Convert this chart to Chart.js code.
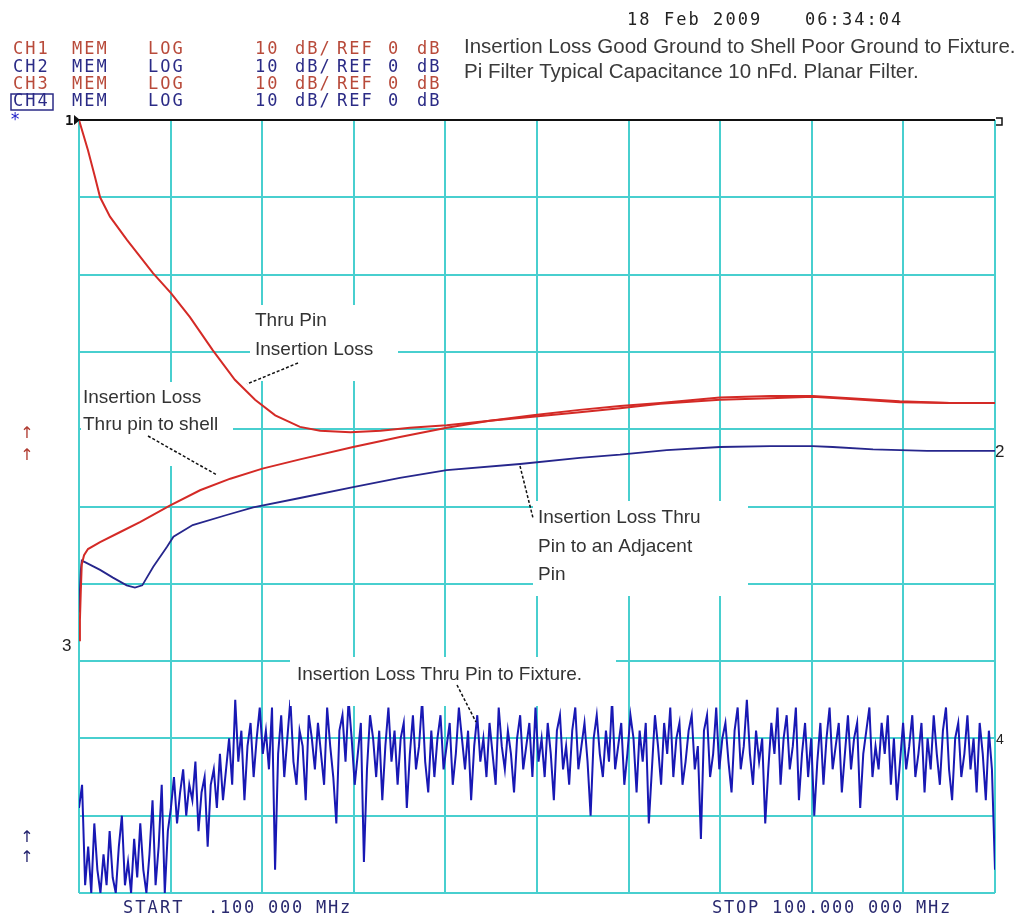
<!DOCTYPE html>
<html lang="en">
<head>
<meta charset="UTF-8">
<title>Insertion Loss - Pi Filter</title>
<script src="https://cdn.jsdelivr.net/npm/chart.js"></script>
<style>
  body { margin: 0; background: #ffffff; }
  #plot { display: block; }
</style>
</head>
<body>
<canvas id="plot" width="1031" height="918"></canvas>
<script>
// sweep 0.1 - 100 MHz, 10 dB/div, REF 0 dB
const FREQ_TICKS = [0.1, 10.09, 20.08, 30.07, 40.06, 50.05, 60.04, 70.03, 80.02, 90.01, 100];
const DB_TICKS = [-100, -90, -80, -70, -60, -50, -40, -30, -20, -10, 0];

// Thru Pin Insertion Loss (red, falls from the top)
const thruPinMHz = [0.1, 1.08, 1.85, 2.4, 3.48, 5.33, 8.17, 10.13, 12.2, 14.7, 17.1, 19.3, 21.5, 24.2, 26.4, 29.7,
  33.0, 36.2, 40.2, 44.9, 49.6, 54.7, 59.1, 63.5, 70.0, 75.5, 80.1, 84.2, 89.6, 95.1, 100];
const thruPinDb = [0, -3.9, -7.4, -10.0, -12.5, -15.5, -19.8, -22.4, -25.5, -29.8, -33.6, -36.2, -38.2, -39.7, -40.2, -40.4,
  -40.2, -39.8, -39.5, -38.9, -38.4, -37.8, -37.3, -36.7, -36.2, -36.0, -35.8, -36.1, -36.5, -36.6, -36.6];

// Insertion Loss Thru pin to shell (red, rises from bottom left)
const shellMHz = [0.1, 0.2, 0.3, 0.4, 0.65, 1.08, 2.4, 4.6, 6.8, 10.0, 13.3, 16.6, 20.1, 24.2, 30.0, 35.1, 40.2,
  44.9, 49.6, 54.7, 59.1, 63.5, 70.0, 75.5, 80.1, 84.2, 89.6, 95.1, 100];
const shellDb = [-67.3, -64.7, -60.8, -57.5, -56.3, -55.5, -54.6, -53.3, -52.0, -49.9, -47.9, -46.4, -45.1, -43.9, -42.3, -41.0, -39.8,
  -38.9, -38.2, -37.5, -37.0, -36.6, -35.9, -35.7, -35.7, -36.0, -36.4, -36.6, -36.6];

// Insertion Loss Thru Pin to an Adjacent Pin (navy)
const adjacentMHz = [0.1, 0.2, 0.3, 0.4, 0.75, 2.4, 3.8, 5.3, 6.2, 7.0, 8.2, 9.7, 10.4, 12.5, 16.2, 19.1, 24.2, 30.0,
  35.1, 40.2, 48.2, 54.7, 59.1, 64.2, 70.0, 75.5, 80.1, 82.3, 86.7, 92.6, 100];
const adjacentDb = [-63.6, -60.8, -58.2, -57.0, -57.2, -58.2, -59.2, -60.2, -60.5, -60.2, -57.8, -55.2, -53.9, -52.4, -51.1, -50.1, -48.9, -47.5,
  -46.3, -45.3, -44.5, -43.7, -43.3, -42.7, -42.3, -42.2, -42.2, -42.3, -42.6, -42.8, -42.8];

// Insertion Loss Thru Pin to Fixture (noisy, one value per sweep point)
const fixtureStartMHz = 0.1;
const fixtureStopMHz = 100;
const fixtureDb = [
  -89, -86, -99, -94, -100, -91, -97, -100, -95, -99, -92, -98, -100, -94, -90, -99, -96, -100, -93, -98,
  -91, -97, -100, -95, -88, -99, -94, -86, -100, -92,
  -89, -85, -91, -87, -84, -90, -86, -88, -83, -92, -87, -85, -94, -86, -84, -89, -82, -88,
  -84, -80, -86, -75, -83, -79, -88, -81, -78, -85, -80, -76, -82,
  -79, -84, -76, -97, -82, -77, -85, -80, -75, -83,
  -86, -79, -81, -88, -77, -80, -84, -78, -82, -86,
  -76, -81, -85, -91, -79, -77, -83, -75, -80, -86,
  -82, -78, -96, -84, -77, -80, -85, -79, -88, -81,
  -76, -83, -79, -86, -80, -78, -89, -82, -77, -84,
  -81, -75, -83, -87, -79, -85, -80, -77, -84, -81,
  -78, -86, -82, -76, -80, -84, -79, -88, -81, -77,
  -83, -80, -85, -78, -82, -86, -76, -81, -84, -79,
  -82, -87, -80, -77, -84, -81, -78, -85, -76, -83,
  -80, -85, -78, -82, -88, -79, -77, -84, -81, -86,
  -79, -76, -84, -81, -78, -83, -90, -80, -77, -82,
  -85, -79, -83, -75, -84, -81, -78, -86, -82, -77,
  -80, -87, -79, -83, -78, -91, -84, -77, -81, -86,
  -78, -82, -76, -85, -80, -78, -86, -83, -79, -77,
  -84, -81, -93, -79, -77, -85, -82, -76, -84, -80,
  -78, -83, -87, -79, -76, -84, -81, -75, -82, -86,
  -79, -83, -80, -91, -84, -78, -82, -76, -86, -80,
  -77, -84, -81, -76, -88, -82, -78, -85, -80, -90,
  -83, -78, -86, -80, -76, -84, -81, -78, -87, -82,
  -77, -84, -80, -78, -89, -82, -79, -76, -85, -81,
  -84, -78, -82, -77, -86, -80, -88, -83, -78, -84,
  -81, -77, -85, -82, -78, -87, -80, -84, -77, -82,
  -86, -79, -76, -84, -88, -80, -78, -85, -82, -77,
  -84, -80, -87, -78, -82, -88, -79, -84, -97
];

const CYAN = '#48cfcf';
const RED = '#d42a26';
const NAVY = '#26268c';
const NOISE = '#1818b4';
const CH_RED = '#b84a3a';
const CH_NAVY = '#2b2b86';
const LABEL = '#333333';

function pairs(xs, ys) {
  return xs.map((x, i) => ({ x: x, y: ys[i] }));
}
const fixtureStep = (fixtureStopMHz - fixtureStartMHz) / (fixtureDb.length - 1);
const fixturePoints = fixtureDb.map((v, i) => ({ x: fixtureStartMHz + i * fixtureStep, y: v }));

// fixed pitch text, like the analyzer's own font
function mono(ctx, str, x, y, color, pitch) {
  ctx.font = '17px "DejaVu Sans Mono"';
  ctx.fillStyle = color;
  ctx.textAlign = 'left';
  ctx.textBaseline = 'middle';
  for (let i = 0; i < str.length; i++) ctx.fillText(str[i], x + i * (pitch || 12.3), y);
}

function label(ctx, lines, x, y, step) {
  ctx.font = '19px "Liberation Sans"';
  ctx.fillStyle = LABEL;
  ctx.textAlign = 'left';
  ctx.textBaseline = 'middle';
  lines.forEach((t, i) => ctx.fillText(t, x, y + i * step));
}

function leader(ctx, x1, y1, x2, y2) {
  ctx.save();
  ctx.strokeStyle = '#111';
  ctx.lineWidth = 1.5;
  ctx.setLineDash([3, 2]);
  ctx.beginPath();
  ctx.moveTo(x1, y1);
  ctx.lineTo(x2, y2);
  ctx.stroke();
  ctx.restore();
}

const annotations = {
  id: 'annotations',
  afterDatasetsDraw(chart) {
    const ctx = chart.ctx;
    ctx.save();
    // white boxes of the pasted notes cover grid and trace
    ctx.fillStyle = '#ffffff';
    ctx.fillRect(250, 305, 148, 76);
    ctx.fillRect(81, 382, 152, 84);
    ctx.fillRect(533, 501, 215, 95);
    ctx.fillRect(290, 657, 326, 49);

    label(ctx, ['Thru Pin', 'Insertion Loss'], 255, 321, 29);
    leader(ctx, 298, 363, 247, 384);

    label(ctx, ['Insertion Loss', 'Thru pin to shell'], 83, 398, 27);
    leader(ctx, 148, 436, 217, 475);

    label(ctx, ['Insertion Loss Thru', 'Pin to an Adjacent', 'Pin'], 538, 518, 28.5);
    leader(ctx, 520, 466, 533, 518);

    label(ctx, ['Insertion Loss Thru Pin to Fixture.'], 297, 675, 0);
    leader(ctx, 457, 685, 476, 722);
    ctx.restore();
  },
  afterDraw(chart) {
    const ctx = chart.ctx;
    ctx.save();
    // channel block
    const rows = [['CH1', CH_RED], ['CH2', CH_NAVY], ['CH3', CH_RED], ['CH4', CH_NAVY]];
    rows.forEach((r, i) => {
      const y = 50 + i * 17.3;
      mono(ctx, r[0], 13, y, r[1]);
      mono(ctx, 'MEM', 72, y, r[1]);
      mono(ctx, 'LOG', 148, y, r[1]);
      mono(ctx, '10', 255, y, r[1]);
      mono(ctx, 'dB/', 295, y, r[1]);
      mono(ctx, 'REF', 337, y, r[1]);
      mono(ctx, '0', 388, y, r[1]);
      mono(ctx, 'dB', 417, y, r[1]);
    });
    ctx.strokeStyle = CH_NAVY;
    ctx.lineWidth = 1.5;
    ctx.strokeRect(11, 94, 42, 16);

    mono(ctx, '*', 10, 121, '#2020c8');
    mono(ctx, '18 Feb 2009', 627, 21, '#222222');
    mono(ctx, '06:34:04', 805, 21, '#222222');

    ctx.font = '20.5px "Liberation Sans"';
    ctx.fillStyle = '#3a3a3a';
    ctx.textBaseline = 'middle';
    ctx.fillText('Insertion Loss Good Ground to Shell Poor Ground to Fixture.', 464, 47);
    ctx.fillText('Pi Filter Typical Capacitance 10 nFd. Planar Filter.', 464, 72);

    mono(ctx, 'START', 123, 909, '#2a2a70');
    mono(ctx, '.100 000 MHz', 208, 909, '#2a2a70', 12);
    mono(ctx, 'STOP 100.000 000 MHz', 712, 909, '#2a2a70', 12);

    // reference position markers
    ctx.fillStyle = '#111';
    ctx.font = 'bold 14px "DejaVu Sans Mono"';
    ctx.fillText('1', 65, 121);
    ctx.beginPath();
    ctx.moveTo(74, 115); ctx.lineTo(80, 120); ctx.lineTo(74, 125); ctx.closePath();
    ctx.fill();
    ctx.strokeStyle = '#111';
    ctx.lineWidth = 1.5;
    ctx.beginPath();
    ctx.moveTo(996, 118); ctx.lineTo(1002, 118); ctx.lineTo(1002, 125); ctx.lineTo(996, 125);
    ctx.stroke();

    ctx.font = '17px "Liberation Sans"';
    ctx.fillStyle = '#222';
    ctx.fillText('2', 995, 452);
    ctx.fillText('3', 62, 646);
    ctx.font = '14px "Liberation Sans"';
    ctx.fillText('4', 996, 740);

    ctx.font = '16px "DejaVu Sans"';
    ctx.textAlign = 'center';
    ctx.fillStyle = '#b03a30';
    ctx.fillText('\u2191', 27, 434);
    ctx.fillText('\u2191', 27, 456);
    ctx.fillStyle = '#22226e';
    ctx.fillText('\u2191', 27, 838);
    ctx.fillText('\u2191', 27, 858);
    ctx.restore();
  }
};

new Chart(document.getElementById('plot'), {
  type: 'line',
  data: {
    datasets: [
      { label: 'Thru Pin Insertion Loss', data: pairs(thruPinMHz, thruPinDb), borderColor: RED, borderWidth: 2 },
      { label: 'Insertion Loss Thru pin to shell', data: pairs(shellMHz, shellDb), borderColor: RED, borderWidth: 2 },
      { label: 'Insertion Loss Thru Pin to an Adjacent Pin', data: pairs(adjacentMHz, adjacentDb), borderColor: NAVY, borderWidth: 1.8 },
      { label: 'Insertion Loss Thru Pin to Fixture', data: fixturePoints, borderColor: NOISE, borderWidth: 2 }
    ]
  },
  options: {
    responsive: false,
    animation: false,
    elements: { point: { radius: 0 }, line: { tension: 0 } },
    layout: { padding: { left: 79, right: 36, top: 120, bottom: 25 } },
    plugins: { legend: { display: false }, tooltip: { enabled: false } },
    scales: {
      x: {
        type: 'linear',
        min: 0.1,
        max: 100,
        afterBuildTicks(scale) { scale.ticks = FREQ_TICKS.map(v => ({ value: v })); },
        afterFit(scale) { scale.height = 0; },
        ticks: { display: false },
        border: { display: false },
        grid: { color: CYAN, lineWidth: 2, drawTicks: false }
      },
      y: {
        type: 'linear',
        min: -100,
        max: 0,
        afterBuildTicks(scale) { scale.ticks = DB_TICKS.map(v => ({ value: v })); },
        afterFit(scale) { scale.width = 0; },
        ticks: { display: false },
        border: { display: false },
        grid: {
          color: c => (c.tick && c.tick.value === 0 ? '#111111' : CYAN),
          lineWidth: 2,
          drawTicks: false
        }
      }
    }
  },
  plugins: [annotations]
});
</script>
</body>
</html>
